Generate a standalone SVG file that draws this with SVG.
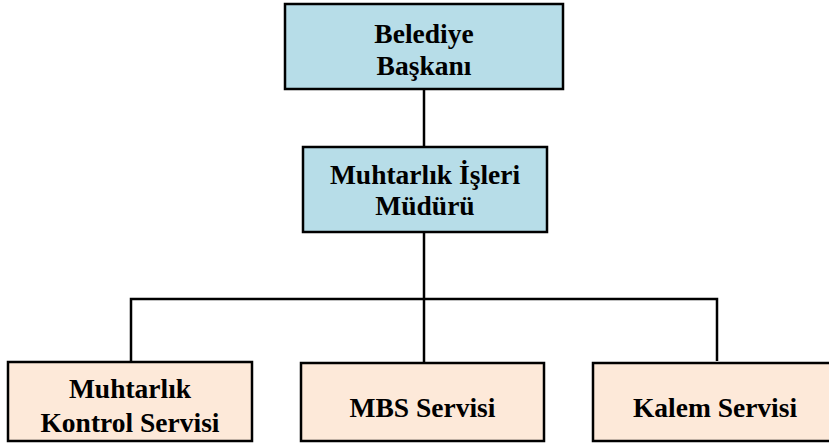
<svg xmlns="http://www.w3.org/2000/svg" width="829" height="445" viewBox="0 0 829 445">
<style>
.box{stroke:#000;stroke-width:2.5}
.blue{fill:#b7dde8}
.peach{fill:#fde9d9}
.t{font-family:"Liberation Serif","Times New Roman",serif;font-weight:bold;font-size:27.5px;fill:#000;text-anchor:middle}
.c{stroke:#000;stroke-width:2.5;fill:none}
</style>
<rect width="829" height="445" fill="#fff"/>
<g id="connectors">
<line class="c" x1="424" y1="89" x2="424" y2="147"/>
<line class="c" x1="424" y1="232" x2="424" y2="362"/>
<polyline class="c" points="131,361 131,299 717,299 717,361"/>
</g>
<g id="belediye-baskani">
<rect class="box blue" x="285" y="4" width="278" height="85"/>
<text class="t" x="424" y="43">Belediye</text>
<text class="t" x="424" y="75">Başkanı</text>
</g>
<g id="muhtarlik-isleri-muduru">
<rect class="box blue" x="303" y="147" width="244" height="85"/>
<text class="t" x="425" y="184">Muhtarlık İşleri</text>
<text class="t" x="425" y="215">Müdürü</text>
</g>
<g id="muhtarlik-kontrol-servisi">
<rect class="box peach" x="8" y="362" width="244" height="79"/>
<text class="t" x="130" y="398">Muhtarlık</text>
<text class="t" x="130" y="432">Kontrol Servisi</text>
</g>
<g id="mbs-servisi">
<rect class="box peach" x="301" y="363" width="243" height="78"/>
<text class="t" x="422.5" y="417">MBS Servisi</text>
</g>
<g id="kalem-servisi">
<rect class="box peach" x="593" y="363" width="244" height="78"/>
<text class="t" x="715" y="417">Kalem Servisi</text>
</g>
</svg>
